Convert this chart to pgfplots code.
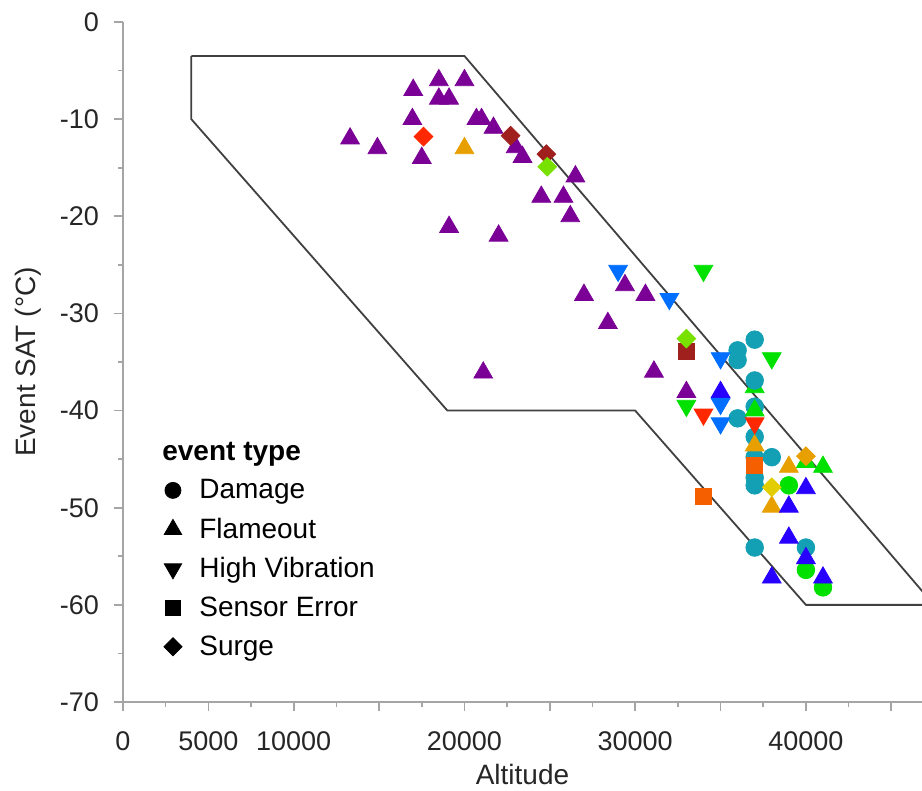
\documentclass[border=0pt]{standalone}
\usepackage{fontspec}
\setmainfont{Liberation Sans}
\usepackage{pgfplots}
\pgfplotsset{compat=1.18}
\definecolor{cpurple}{RGB}{122,0,150}
\definecolor{corange}{RGB}{232,160,0}
\definecolor{cred}{RGB}{255,40,0}
\definecolor{cdarkred}{RGB}{160,32,30}
\definecolor{clime}{RGB}{120,225,0}
\definecolor{cgreen}{RGB}{0,225,0}
\definecolor{cblue}{RGB}{40,0,255}
\definecolor{cdodger}{RGB}{0,110,255}
\definecolor{cteal}{RGB}{20,160,180}
\definecolor{csensor}{RGB}{245,95,0}
\definecolor{cyellow}{RGB}{225,205,0}
\definecolor{caxis}{RGB}{165,165,165}
\pgfplotsset{
  mylegimg/.style={legend image code/.code={\draw[mark repeat=2,mark phase=2,##1] plot coordinates {(0pt,0pt) (6pt,0pt) (12pt,0pt)}; \path (0pt,0pt) (17pt,0pt);}},
  up/.style={only marks, mark=triangle*, mark size=5.4pt, color=#1, forget plot},
  dn/.style={only marks, mark=triangle*, mark size=5.4pt, mark options={rotate=180}, color=#1, forget plot},
  circ/.style={only marks, mark=*, mark size=4.4pt, color=#1, forget plot},
  sq/.style={only marks, mark=square*, mark size=4pt, color=#1, forget plot},
  dia/.style={only marks, mark=square*, mark size=3.3pt, mark options={rotate=45}, color=#1, forget plot},
}
\begin{document}
\begin{tikzpicture}
\useasboundingbox (0,0) rectangle (461pt,395.5pt);
\begin{axis}[
  at={(61.5pt,44.5pt)}, anchor=south west,
  scale only axis, width=399.5pt, height=340pt,
  xmin=0, xmax=46800, ymin=-70, ymax=0,
  axis x line*=bottom, axis y line*=left,
  axis line style={caxis, line width=1pt, -},
  tick style={caxis, line width=0.8pt},
  tick align=outside,
  major tick length=4.5pt, minor tick length=2.5pt,
  xtick={0,5000,...,45000},
  xticklabels={0,5000,10000,,20000,,30000,,40000,},
  minor x tick num=1,
  ytick={-70,-60,...,0},
  yticklabels={-70,-60,-50,-40,-30,-20,-10,0},
  minor y tick num=1,
  scaled x ticks=false,
  ticklabel style={font=\fontsize{13.5}{15}\selectfont, text=black!85},
  xticklabel style={yshift=-7pt},
  yticklabel style={xshift=-4pt},
  xlabel={Altitude}, ylabel={Event SAT (°C)},
  label style={font=\fontsize{14}{16}\selectfont, text=black!85},
  xlabel style={at={(axis description cs:0.5,-0.107)}, anchor=center},
  ylabel style={at={(axis description cs:-0.118,0.5)}, anchor=center},
  legend style={at={(axis description cs:0.039,0.395)}, anchor=north west,
    draw=none, fill=none, font=\fontsize{14}{16}\selectfont, row sep=4.1pt},
  legend cell align=left,
  clip=true,
]
% envelope
\addplot[color=black!75, line width=0.9pt, forget plot] coordinates {
(4000,-3.5) (20000,-3.5) (47500,-60) (40000,-60) (30000,-40) (19000,-40) (4000,-10) (4000,-3.5)};

% green triangle hidden behind circle
\addplot[up=cgreen] coordinates {(37000,-37.6)};
% damage circles
\addplot[circ=cgreen] coordinates {(39000,-47.7) (40000,-56.4) (41000,-58.2)};
\addplot[circ=cteal] coordinates {
(37000,-32.7) (36000,-33.8) (36000,-34.8) (37000,-36.9) (37000,-39.6) (36000,-40.8)
(37000,-42.7) (37000,-44.8) (38000,-44.8) (37000,-46.9) (37000,-47.7) (37000,-54.1) (40000,-54.1)};

% flameout
\addplot[up=cpurple] coordinates {
(13300,-12) (14900,-13) (17000,-7) (18500,-6) (20000,-6) (18500,-7.9) (19100,-7.9)
(16950,-10) (17500,-14) (20700,-10) (21000,-10) (21700,-10.9) (23000,-12.9) (23400,-13.9)
(26500,-15.9) (24500,-18) (25800,-18) (26200,-20) (22000,-22) (19100,-21.1)
(27000,-28.1) (21100,-36.1) (29400,-27.1) (30600,-28.1) (28400,-31) (31100,-36) (33000,-38.1)};
\addplot[up=corange] coordinates {(20000,-13) (37000,-43.6) (39000,-45.8) (38000,-49.9)};
\addplot[up=cgreen] coordinates {(37000,-40) (40000,-45.3) (41000,-45.8)};
\addplot[up=cblue] coordinates {(35000,-38.1) (40000,-48) (39000,-49.9) (39000,-53.1) (40000,-55.2) (38000,-57.2) (41000,-57.2)};

% high vibration
\addplot[dn=cdodger] coordinates {(29000,-25.6) (32000,-28.5) (35000,-34.6) (35000,-39.3) (35000,-41.3)};
\addplot[dn=cgreen] coordinates {(34000,-25.6) (38000,-34.6) (33000,-39.5)};
\addplot[dn=cred] coordinates {(34000,-40.4) (37000,-41.3)};

% sensor error
\addplot[sq=csensor] coordinates {(37000,-45.6) (34000,-48.8)};
\addplot[sq=cdarkred] coordinates {(33000,-33.9)};

% surge
\addplot[dia=cred] coordinates {(17600,-11.8)};
\addplot[dia=cdarkred] coordinates {(22700,-11.7) (24800,-13.6)};
\addplot[dia=clime] coordinates {(24850,-14.9) (33000,-32.6)};
\addplot[dia=corange] coordinates {(40000,-44.7)};
\addplot[dia=cyellow] coordinates {(38000,-47.9)};

% legend
\addlegendimage{empty legend}
\addlegendentry{\hspace*{-18.5pt}\textbf{event type}}
\addlegendimage{only marks, mark=*, mark size=4pt, black, mylegimg}
\addlegendentry{Damage}
\addlegendimage{only marks, mark=triangle*, mark size=5pt, black, mylegimg}
\addlegendentry{Flameout}
\addlegendimage{only marks, mark=triangle*, mark size=5pt, mark options={rotate=180}, black, mylegimg}
\addlegendentry{High Vibration}
\addlegendimage{only marks, mark=square*, mark size=3.6pt, black, mylegimg}
\addlegendentry{Sensor Error}
\addlegendimage{only marks, mark=square*, mark size=3.2pt, mark options={rotate=45}, black, mylegimg}
\addlegendentry{Surge}
\end{axis}
\end{tikzpicture}
\end{document}
